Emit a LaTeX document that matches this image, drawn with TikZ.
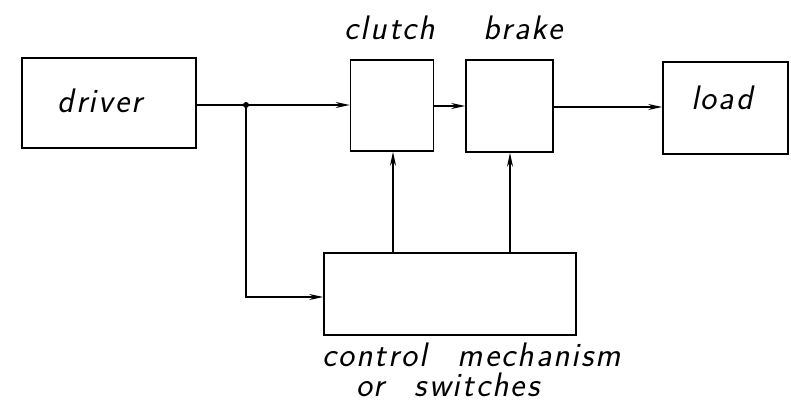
\documentclass[tikz,border=0pt]{standalone}
\usepackage{fontspec}
\newfontfamily\handfont[FakeSlant=0.2,LetterSpace=6]{Latin Modern Sans}
\usetikzlibrary{arrows.meta}
\begin{document}
\begin{tikzpicture}[x=1pt,y=-1pt,
  blk/.style={draw,line width=1.6pt,inner sep=0pt},
  lab/.style={font=\fontsize{34}{30}\selectfont\handfont,inner sep=0pt},
  flow/.style={line width=1.5pt,-{Stealth[length=14pt,width=6pt]}}]
\useasboundingbox (0,0) rectangle (791,404);
\node[blk,minimum width=174pt,minimum height=90pt] (drv) at (109,103) {};
\node[lab,anchor=base] at (100,112) {driver};
\node[blk,minimum width=83pt,minimum height=91pt] (clu) at (392,105.5) {};
\node[blk,minimum width=87pt,minimum height=92pt] (brk) at (509.5,106) {};
\node[blk,minimum width=125pt,minimum height=92pt] (lod) at (725.5,108) {};
\node[lab,anchor=base] at (722,109) {load};
\node[blk,minimum width=252pt,minimum height=82pt] (ctl) at (450,294) {};
\node[lab,anchor=base] (tclu) at (390,40) {clutch};
\node[lab,anchor=base] (tbrk) at (523,40) {brake};
\node[lab,anchor=base west,align=left] (tc) at (322,396)
  {control\hspace{0.9em}mechanism\\\hspace*{34pt}or\hspace{0.9em}switches};
\coordinate (j) at (246,105);
\coordinate (k) at (246,297);
\fill (j) circle (3pt);
\draw[line width=1.5pt] (drv.east |- j) -- (j);
\draw[flow] (j) -- (clu.west |- j);
\draw[flow] (j) -- (k) -- (ctl.west |- k);
\draw[flow] (clu.east |- 0,106) -- (brk.west |- 0,106);
\draw[flow] (brk.east |- 0,107) -- (lod.west |- 0,107);
\draw[flow] (ctl.north -| 393,0) -- (clu.south -| 393,0);
\draw[flow] (ctl.north -| 510,0) -- (brk.south -| 510,0);
\end{tikzpicture}
\end{document}
